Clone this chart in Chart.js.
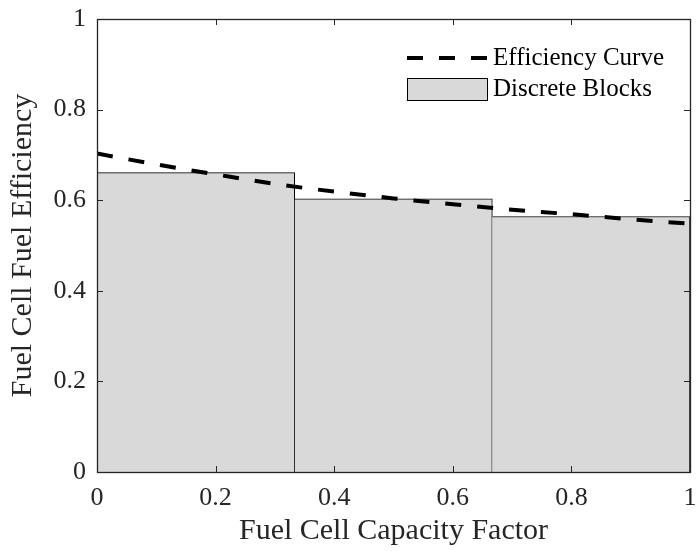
<!DOCTYPE html>
<html lang="en">
<head>
  <meta charset="utf-8">
  <script src="https://cdn.jsdelivr.net/npm/chart.js@4.4.1/dist/chart.umd.min.js"></script>
  <style>
    body { margin: 0; background: #fff; }
    #chart { display: block; }
  </style>
</head>
<body>
  <canvas id="chart" width="699" height="551"></canvas>

  <script>
    // efficiency curve, sampled along the capacity factor
    const capacity = [0, 0.1, 0.2, 0.3, 0.4, 0.5, 0.6, 0.7, 0.8, 0.9, 1];
    const efficiency = [0.703, 0.679, 0.657, 0.636, 0.619, 0.604, 0.591, 0.579, 0.569, 0.558, 0.548];

    // discrete blocks: edges and block heights
    const blockEdges = [0, 1 / 3, 2 / 3, 1];
    const blockValues = [0.661, 0.603, 0.564];

    const tickValues = [0, 0.2, 0.4, 0.6, 0.8, 1];
    const seriesNames = ['Efficiency Curve', 'Discrete Blocks'];

    const SERIF = '"Liberation Serif", "Times New Roman", serif';
    const AXIS = '#262626';

    const curvePts = capacity.map((x, i) => ({ x: x, y: efficiency[i] }));
    const blockPts = blockValues.map((v, i) => ({ x: (blockEdges[i] + blockEdges[i + 1]) / 2, y: v }));

    // box, inward ticks on all four sides, and the legend inside the axes
    const matlabAxes = {
      id: 'matlabAxes',
      afterDatasetsDraw(chart) {
        const ctx = chart.ctx;
        const a = chart.chartArea;
        const xs = chart.scales.x, ys = chart.scales.y;
        const tl = 6;
        ctx.save();
        ctx.strokeStyle = AXIS;
        ctx.lineWidth = 1;
        ctx.beginPath();
        tickValues.forEach(v => {
          const px = Math.round(xs.getPixelForValue(v)) + 0.5;
          ctx.moveTo(px, a.bottom); ctx.lineTo(px, a.bottom - tl);
          ctx.moveTo(px, a.top); ctx.lineTo(px, a.top + tl);
          const py = Math.round(ys.getPixelForValue(v)) + 0.5;
          ctx.moveTo(a.left, py); ctx.lineTo(a.left + tl, py);
          ctx.moveTo(a.right, py); ctx.lineTo(a.right - tl, py);
        });
        ctx.stroke();
        ctx.lineWidth = 1.3;
        ctx.strokeRect(Math.round(a.left) + 0.5, Math.round(a.top) + 0.5,
          Math.round(a.right - a.left), Math.round(a.bottom - a.top));

        // legend
        const lx = a.right - 283, sw = 80;
        const rows = [a.top + 39, a.top + 70];
        const line = chart.data.datasets[0], blocks = chart.data.datasets[1];
        ctx.font = '25px ' + SERIF;
        ctx.textBaseline = 'middle';
        ctx.textAlign = 'left';
        ctx.fillStyle = '#000';

        ctx.strokeStyle = line.borderColor;
        ctx.lineWidth = line.borderWidth;
        ctx.setLineDash(line.borderDash);
        ctx.beginPath();
        ctx.moveTo(lx, rows[0]); ctx.lineTo(lx + sw, rows[0]);
        ctx.stroke();
        ctx.setLineDash([]);
        ctx.fillText(line.label, lx + sw + 6, rows[0]);

        ctx.fillStyle = blocks.backgroundColor;
        ctx.fillRect(lx, rows[1] - 11, sw, 22);
        ctx.strokeStyle = blocks.borderColor;
        ctx.lineWidth = 1;
        ctx.strokeRect(lx + 0.5, rows[1] - 11 + 0.5, sw, 22);
        ctx.fillStyle = '#000';
        ctx.fillText(blocks.label, lx + sw + 6, rows[1]);
        ctx.restore();
      }
    };

    new Chart(document.getElementById('chart'), {
      type: 'bar',
      data: {
        datasets: [
          {
            type: 'line',
            label: seriesNames[0],
            data: curvePts,
            borderColor: '#000',
            borderWidth: 4,
            borderDash: [16, 16],
            borderCapStyle: 'butt',
            pointRadius: 0,
            cubicInterpolationMode: 'monotone',
            fill: false,
            xAxisID: 'x',
            order: 1
          },
          {
            type: 'bar',
            label: seriesNames[1],
            data: blockPts,
            backgroundColor: '#d9d9d9',
            borderColor: '#000',
            borderWidth: { top: 1, right: 1, left: 0, bottom: 0 },
            borderSkipped: false,
            grouped: false,
            barPercentage: 1,
            categoryPercentage: 1,
            xAxisID: 'xBlocks',
            order: 2
          }
        ]
      },
      options: {
        responsive: false,
        animation: false,
        layout: { padding: { top: 19, right: 9, left: 0, bottom: 0 } },
        plugins: {
          legend: { display: false },
          tooltip: { enabled: false }
        },
        scales: {
          x: {
            type: 'linear',
            min: 0,
            max: 1,
            offset: false,
            afterBuildTicks: s => { s.ticks = tickValues.map(v => ({ value: v })); },
            afterFit: s => { s.height = 79; s.paddingLeft = 0; s.paddingRight = 0; },
            grid: { display: false, drawTicks: false, offset: false },
            border: { display: false },
            ticks: {
              padding: 11,
              color: AXIS,
              font: { family: SERIF, size: 26 },
              maxRotation: 0,
              callback: v => String(+v.toFixed(1))
            },
            title: {
              display: true,
              text: 'Fuel Cell Capacity Factor',
              color: AXIS,
              font: { family: SERIF, size: 30 },
              padding: { top: 0, bottom: 2 }
            }
          },
          xBlocks: {
            type: 'linear',
            display: false,
            min: 0,
            max: 1,
            offset: false,
            grid: { offset: false },
            afterBuildTicks: s => { s.ticks = []; }
          },
          y: {
            min: 0,
            max: 1,
            afterBuildTicks: s => { s.ticks = tickValues.map(v => ({ value: v })); },
            afterFit: s => { s.width = 97; s.paddingTop = 0; s.paddingBottom = 0; },
            grid: { display: false, drawTicks: false },
            border: { display: false },
            ticks: {
              padding: 11,
              color: AXIS,
              font: { family: SERIF, size: 26 },
              callback: v => String(+v.toFixed(1))
            },
            title: {
              display: true,
              text: 'Fuel Cell Fuel Efficiency',
              color: AXIS,
              font: { family: SERIF, size: 30 },
              padding: { top: 5, bottom: 0 }
            }
          }
        }
      },
      plugins: [matlabAxes]
    });
  </script>
</body>
</html>
